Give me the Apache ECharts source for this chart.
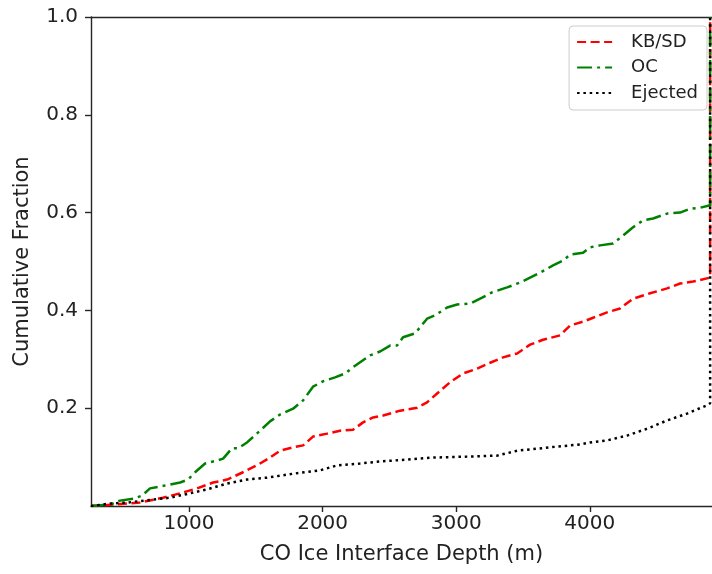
<!DOCTYPE html>
<html>
<head>
<meta charset="utf-8">
<script src="https://cdn.jsdelivr.net/npm/echarts@6/dist/echarts.min.js"></script>
<style>html,body{margin:0;padding:0;background:#fff}#c{width:712px;height:574px}</style>
</head>
<body>
<div id="c"></div>
<script>
// ---- data ----
const xTicks = [1000, 2000, 3000, 4000];
const yTicks = [0.2, 0.4, 0.6, 0.8, 1.0];
const seriesNames = ['KB/SD', 'OC', 'Ejected'];

const kbsdDepth = [266, 445, 633, 805, 933, 1060, 1180, 1285, 1404, 1532, 1606, 1681, 1779, 1854, 1928, 2033, 2130, 2228, 2303, 2378, 2453, 2580, 2707, 2782, 2857, 2954, 3052, 3157, 3254, 3351, 3456, 3553, 3650, 3778, 3853, 3950, 4025, 4129, 4227, 4324, 4451, 4579, 4676, 4773, 4901, 4901];
const kbsdFrac  = [0, 0.003, 0.007, 0.017, 0.026, 0.036, 0.048, 0.054, 0.069, 0.087, 0.099, 0.113, 0.120, 0.124, 0.142, 0.148, 0.154, 0.156, 0.171, 0.181, 0.185, 0.195, 0.201, 0.212, 0.230, 0.253, 0.271, 0.281, 0.293, 0.304, 0.312, 0.330, 0.340, 0.349, 0.369, 0.377, 0.385, 0.396, 0.404, 0.424, 0.435, 0.445, 0.455, 0.459, 0.467, 1.0];

const ocDepth = [266, 409, 483, 581, 646, 708, 783, 933, 993, 1045, 1120, 1210, 1255, 1322, 1367, 1434, 1532, 1606, 1681, 1779, 1854, 1928, 2003, 2093, 2168, 2243, 2355, 2430, 2505, 2557, 2602, 2692, 2782, 2842, 2932, 3007, 3104, 3194, 3269, 3381, 3478, 3553, 3628, 3725, 3800, 3853, 3950, 4002, 4077, 4175, 4249, 4324, 4399, 4474, 4579, 4676, 4751, 4826, 4901, 4901];
const ocFrac  = [0, 0.003, 0.011, 0.015, 0.021, 0.036, 0.040, 0.048, 0.054, 0.069, 0.087, 0.093, 0.097, 0.118, 0.118, 0.130, 0.154, 0.173, 0.187, 0.199, 0.216, 0.244, 0.255, 0.263, 0.271, 0.287, 0.308, 0.316, 0.328, 0.328, 0.345, 0.353, 0.383, 0.390, 0.406, 0.412, 0.414, 0.426, 0.437, 0.447, 0.457, 0.467, 0.477, 0.492, 0.502, 0.514, 0.518, 0.529, 0.533, 0.537, 0.553, 0.570, 0.584, 0.588, 0.598, 0.600, 0.608, 0.610, 0.615, 1.0];

const ejDepth = [266, 409, 536, 731, 858, 1007, 1135, 1284, 1434, 1584, 1779, 1981, 2108, 2280, 2430, 2632, 2827, 3081, 3306, 3456, 3703, 3927, 4002, 4129, 4279, 4429, 4579, 4728, 4878, 4901, 4901];
const ejFrac  = [0, 0.005, 0.007, 0.013, 0.017, 0.026, 0.034, 0.046, 0.054, 0.058, 0.066, 0.073, 0.083, 0.087, 0.091, 0.095, 0.099, 0.101, 0.103, 0.113, 0.120, 0.126, 0.130, 0.134, 0.144, 0.158, 0.175, 0.189, 0.206, 0.210, 1.0];

const xMin = 266, xMax = 4915;

// ---- chart ----
const pair = (xs, ys) => xs.map((x, i) => [x, ys[i]]);
const FONT = 'DejaVu Sans';
const chart = echarts.init(document.getElementById('c'), null, {renderer: 'canvas'});
const axisLineStyle = {color: '#262626', width: 1.4};

chart.setOption({
  animation: false,
  backgroundColor: '#fff',
  grid: {left: 91, right: 0, top: 17, bottom: 68},
  legend: {
    orient: 'vertical',
    right: 5, top: 26,
    padding: [7, 9, 8, 7],
    backgroundColor: 'rgba(255,255,255,0.8)',
    borderColor: '#cccccc', borderWidth: 1, borderRadius: 4,
    itemWidth: 35, itemHeight: 14, itemGap: 7.5,
    itemStyle: {opacity: 0},
    textStyle: {fontFamily: FONT, fontSize: 18, color: '#222', lineHeight: 18, padding: [0, 0, 0, 14]},
    data: seriesNames
  },
  xAxis: [{
    type: 'value', min: xMin, max: xMax,
    name: 'CO Ice Interface Depth (m)', nameLocation: 'middle', nameGap: 38,
    nameTextStyle: {fontFamily: FONT, fontSize: 21, color: '#222'},
    axisLine: {show: true, lineStyle: axisLineStyle},
    axisTick: {show: true, length: 6, customValues: xTicks, lineStyle: axisLineStyle},
    axisLabel: {customValues: xTicks, fontFamily: FONT, fontSize: 20, color: '#222', margin: 8,
      formatter: v => String(Math.round(v))},
    splitLine: {show: false}
  }, {
    type: 'value', position: 'top', min: xMin, max: xMax,
    axisLine: {show: true, lineStyle: axisLineStyle},
    axisTick: {show: false}, axisLabel: {show: false}, splitLine: {show: false}
  }],
  yAxis: {
    type: 'value', min: 0, max: 1, interval: 0.2,
    name: 'Cumulative Fraction', nameLocation: 'middle', nameGap: 58,
    nameTextStyle: {fontFamily: FONT, fontSize: 21, color: '#222'},
    axisLine: {show: true, lineStyle: axisLineStyle},
    axisTick: {show: true, length: 6, customValues: yTicks, lineStyle: axisLineStyle},
    axisLabel: {customValues: yTicks, fontFamily: FONT, fontSize: 20, color: '#222', margin: 13,
      formatter: v => v.toFixed(1)},
    splitLine: {show: false}
  },
  series: [
    {name: seriesNames[0], type: 'line', xAxisIndex: 0, symbol: 'none', data: pair(kbsdDepth, kbsdFrac),
     lineStyle: {color: '#ff0000', width: 2.5, type: [9, 4.5]}, itemStyle: {color: '#ff0000'}},
    {name: seriesNames[1], type: 'line', xAxisIndex: 0, symbol: 'none', data: pair(ocDepth, ocFrac),
     lineStyle: {color: '#008000', width: 2.5, type: [15, 5, 3, 5]}, itemStyle: {color: '#008000'}},
    {name: seriesNames[2], type: 'line', xAxisIndex: 0, symbol: 'none', data: pair(ejDepth, ejFrac),
     lineStyle: {color: '#000000', width: 2.5, type: [2.5, 3.8]}, itemStyle: {color: '#000000'}}
  ]
});
</script>
</body>
</html>
